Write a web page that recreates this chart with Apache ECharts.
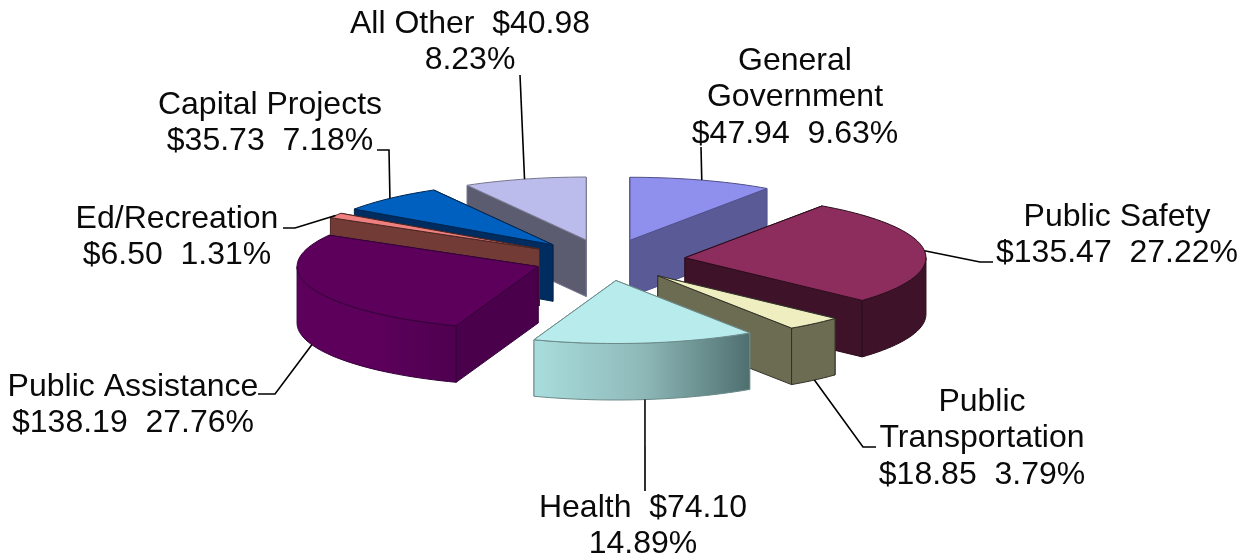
<!DOCTYPE html>
<html>
<head>
<meta charset="utf-8">
<style>html,body{margin:0;padding:0;background:#fff}#chart{width:1249px;height:558px}</style>
<script src="https://cdn.jsdelivr.net/npm/echarts@6/dist/echarts.min.js"></script>
</head>
<body>
<div id="chart"></div>
<script>
// Spending by function, in slice order clockwise from twelve o'clock.
const categories = ['General Government', 'Public Safety', 'Public Transportation', 'Health',
  'Public Assistance', 'Ed/Recreation', 'Capital Projects', 'All Other'];
const amounts = [47.94, 135.47, 18.85, 74.10, 138.19, 6.50, 35.73, 40.98];
const percents = [9.63, 27.22, 3.79, 14.89, 27.76, 1.31, 7.18, 8.23];
const labelLines = [
  ['General', 'Government', '$47.94  9.63%'],
  ['Public Safety', '$135.47  27.22%'],
  ['Public', 'Transportation', '$18.85  3.79%'],
  ['Health  $74.10', '14.89%'],
  ['Public Assistance', '$138.19  27.76%'],
  ['Ed/Recreation', '$6.50  1.31%'],
  ['Capital Projects', '$35.73  7.18%'],
  ['All Other  $40.98', '8.23%']
];

// Face colours per slice.
const topColors = ['#8f8fee', '#8c2d5e', '#eeeec0', '#b8ecec', '#5c005c', '#f08080', '#0060c0', '#bcbcec'];
const wallColors = ['#5a5a96', '#3e1329', '#6c6c52', '#4e6e6e', '#4a004a', '#733b35', '#002c60', '#5c5c70'];
const rimStops = [
  null, null, null,
  ['#a9dddd', '#8fb9b9', '#4f6f6f'],
  ['#5c005c', '#5c005c', '#4f004f'],
  null, null, null
];
const edgeColors = ['#50508a', '#2c0c1c', '#33332a', '#6c8a8a', '#35003a', '#4a2522', '#00254f', '#77778f'];

// Pie projection: tilted ellipse, extruded downwards.
const pie = { cx: 606.4, cy: 260, rx: 241, ry: 63, depth: 56.5 };
const explode = [0.328, 0.328, 0.328, 0.328, 0.302, 0.328, 0.328, 0.328];
// Back-to-front painting order of the slices.
const drawOrder = [0, 7, 6, 5, 1, 4, 2, 3];

// Text block centres and the leader-line elbows, one per slice.
const labelCentres = [[795, 61], [1117, 217], [982, 402], [643, 508], [133, 387], [177, 219], [270, 105], [470, 24]];
const leaderStarts = [
  [[701, 147]],
  [[993, 262], [980, 262]],
  [[876, 447], [863, 447]],
  [[645, 491]],
  [[258, 394], [275, 394]],
  [[283, 228], [295, 228]],
  [[377, 150], [389, 150]],
  [[520, 75]]
];
const lineHeight = 36.6;
const font = '32px "Liberation Sans", Arial, sans-serif';

const total = amounts.reduce((a, b) => a + b, 0);
const rad = Math.PI / 180;
const spans = [];
amounts.reduce((acc, v) => {
  const next = acc + v / total * 360;
  spans.push([acc, next]);
  return next;
}, 0);

function renderSlice(params, api) {
  const i = api.value(2);
  const order = params.dataIndex;
  const [a0, a1] = spans[i];
  const mid = (a0 + a1) / 2;
  const ax = pie.cx + explode[i] * pie.rx * Math.sin(mid * rad);
  const ay = pie.cy - explode[i] * pie.ry * Math.cos(mid * rad);
  const rim = t => [ax + pie.rx * Math.sin(t * rad), ay - pie.ry * Math.cos(t * rad)];
  const drop = p => [p[0], p[1] + pie.depth];
  const arc = (s, e) => {
    const pts = [];
    const n = Math.max(2, Math.ceil((e - s) / 2));
    for (let k = 0; k <= n; k++) pts.push(rim(s + (e - s) * k / n));
    return pts;
  };
  const edge = edgeColors[i];
  const face = (points, fill, z) => ({
    type: 'polygon', z2: order * 10 + z,
    shape: { points },
    style: { fill, stroke: edge, lineWidth: 1, lineJoin: 'round' }
  });
  const children = [];
  const apex = [ax, ay];
  // Radial walls, further one first.
  const walls = [a0, a1].map(t => rim(t)).sort((p, q) => p[1] - q[1]);
  walls.forEach((p, k) => children.push(face([apex, p, drop(p), drop(apex)], wallColors[i], k)));
  // Curved wall: only the stretch of rim that faces the viewer.
  const s = Math.max(a0, 90), e = Math.min(a1, 270);
  if (e > s) {
    const top = arc(s, e);
    const stops = rimStops[i];
    const fill = stops ? {
      type: 'linear', x: 0, y: 0, x2: 1, y2: 0,
      colorStops: stops.map((color, k) => ({ offset: k / (stops.length - 1), color }))
    } : wallColors[i];
    children.push(face(top.concat(top.slice().reverse().map(drop)), fill, 3));
  }
  children.push(face([apex].concat(arc(a0, a1)), topColors[i], 4));

  // Leader line from the label to the visible rim at the slice's mid-angle.
  let anchor = rim(mid);
  if (mid > 90 && mid < 270) anchor = drop(anchor);
  children.push({
    type: 'polyline', z2: 900,
    shape: { points: leaderStarts[i].concat([anchor]) },
    style: { fill: null, stroke: '#000', lineWidth: 1.6 }
  });
  labelLines[i].forEach((line, k) => children.push({
    type: 'text', z2: 901,
    style: {
      text: line, x: labelCentres[i][0], y: labelCentres[i][1] + k * lineHeight,
      font, fill: '#0a0a0a', align: 'center', verticalAlign: 'middle'
    }
  }));
  return { type: 'group', children };
}

const chart = echarts.init(document.getElementById('chart'), null, { renderer: 'canvas' });
chart.setOption({
  backgroundColor: '#ffffff',
  animation: false,
  series: [{
    type: 'custom',
    coordinateSystem: 'none',
    name: 'Spending',
    renderItem: renderSlice,
    silent: true,
    data: drawOrder.map(i => ({ name: categories[i], value: [amounts[i], percents[i], i] }))
  }]
});
</script>
</body>
</html>
